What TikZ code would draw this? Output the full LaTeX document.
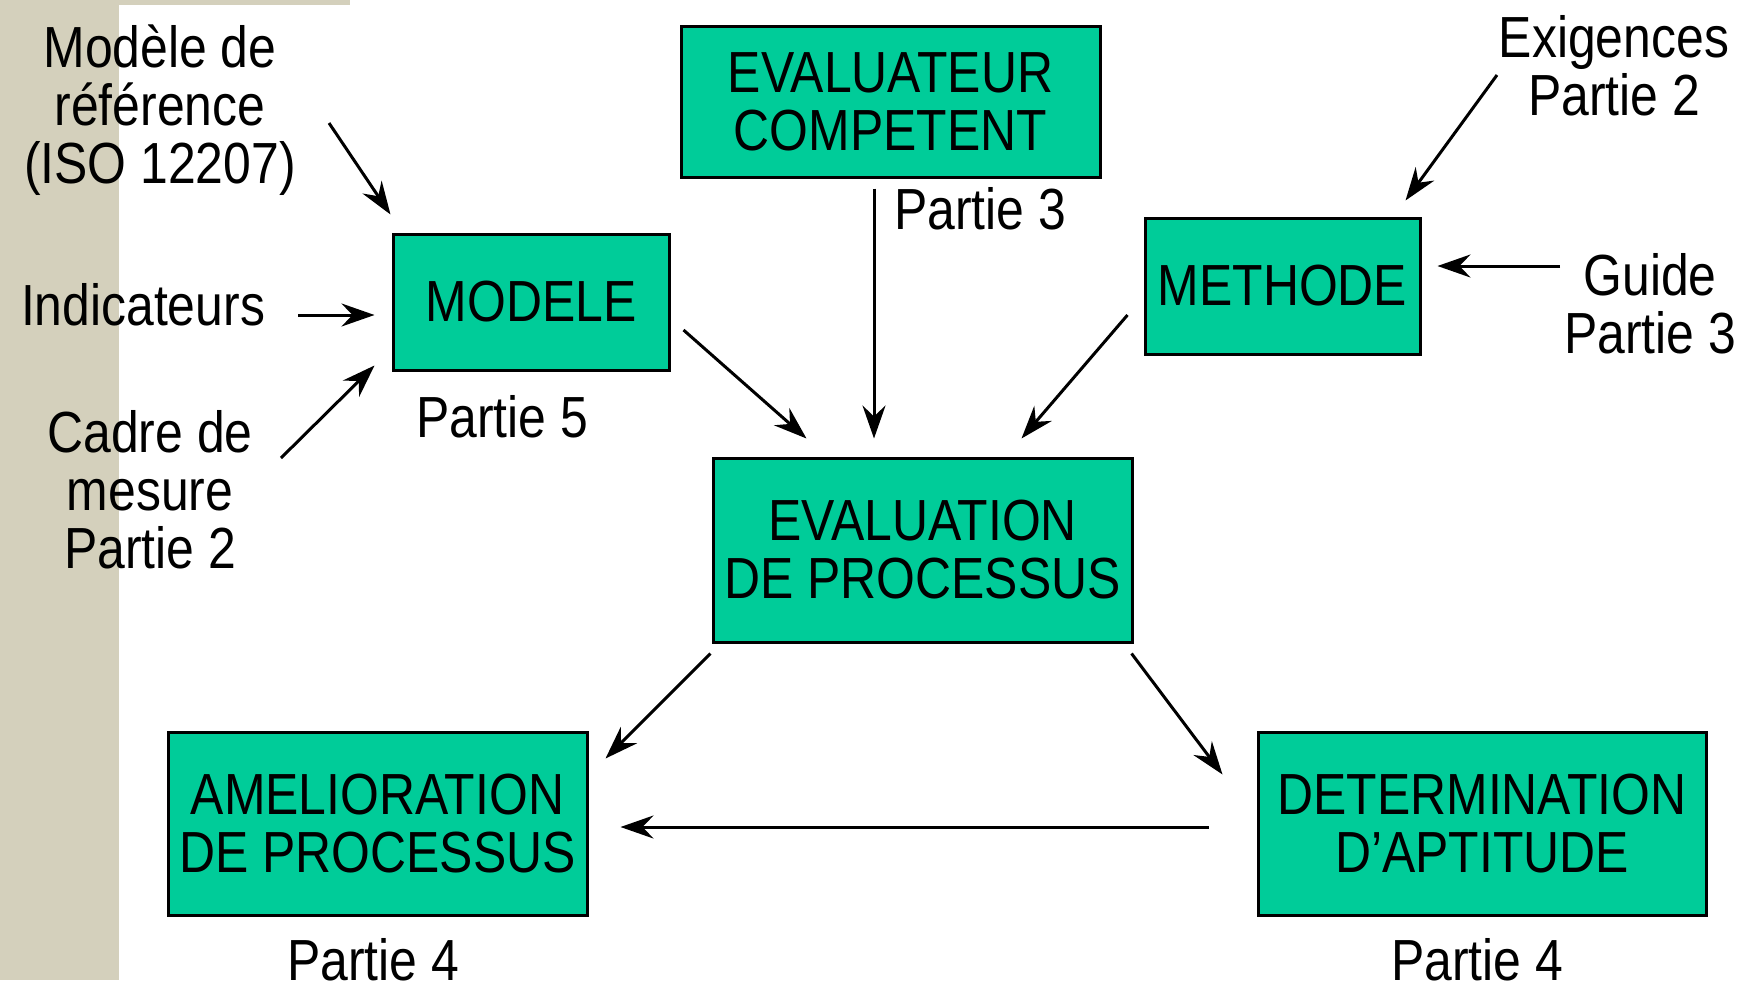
\documentclass[tikz,border=0pt]{standalone}
\usepackage{fontspec}
\setmainfont{Liberation Sans}[FakeStretch=0.86]
\usetikzlibrary{arrows.meta}
\definecolor{boxgreen}{HTML}{00CC99}
\definecolor{sideband}{HTML}{D4D0BC}
\begin{document}
\begin{tikzpicture}[x=1pt,y=-1pt,
  font=\fontsize{58}{58}\selectfont,
  box/.style={draw=black, line width=3pt, fill=boxgreen, inner sep=0pt, align=center},
  lbl/.style={align=center, inner sep=0pt},
  arr/.style={line width=3pt, -{Stealth[length=33pt,width=23pt,inset=11pt]}}]
\useasboundingbox (0,0) rectangle (1756,980);
% side band
\fill[sideband] (0,0) rectangle (119,980);
\fill[sideband] (0,0) rectangle (350,5);

% process boxes
\node[box, minimum width=276pt, minimum height=136pt] (modele) at (531,302) {MODELE};
\node[box, minimum width=419pt, minimum height=151pt] (evaluateur) at (890.5,101.5) {EVALUATEUR\\COMPETENT};
\node[box, minimum width=275pt, minimum height=136pt] (methode) at (1282.5,286) {METHODE};
\node[box, minimum width=419pt, minimum height=184pt] (evalp) at (922.5,550) {EVALUATION\\DE PROCESSUS};
\node[box, minimum width=419pt, minimum height=183pt] (amel) at (377.5,823.5) {AMELIORATION\\DE PROCESSUS};
\node[box, minimum width=448pt, minimum height=183pt] (deter) at (1482,823.5) {DETERMINATION\\D’APTITUDE};

% labels
\node[lbl] (ref) at (160,110) {Modèle de\\référence\\(ISO 12207)};
\node[lbl] (indic) at (143,305) {Indicateurs};
\node[lbl] (cadre) at (150,490) {Cadre de\\mesure\\Partie 2};
\node[lbl] (p5) at (502,417) {Partie 5};
\node[lbl] (p3) at (980,209) {Partie 3};
\node[lbl] (exig) at (1614,66) {Exigences\\Partie 2};
\node[lbl] (guide) at (1650,304) {Guide\\Partie 3};
\node[lbl] (p4a) at (373,960) {Partie 4};
\node[lbl] (p4b) at (1477,960) {Partie 4};

% free arrow ends next to the labels
\coordinate (refout) at (329,123);
\coordinate (indout) at (298,315);
\coordinate (cadout) at (281,458);
\coordinate (exgout) at (1497,75);
\coordinate (guiout) at (1560,266);

% connectors
\draw[arr] (refout) -- ([shift={(-1,-18)}]modele.north west);
\draw[arr] (indout) -- ([shift={(-17,13)}]modele.west);
\draw[arr] (cadout) -- ([shift={(-17,-6)}]modele.south west);
\draw[arr] ([shift={(13,28)}]modele.east) -- ([shift={(95,-18)}]evalp.north west);
\draw[arr] ([shift={(-16.5,10)}]evaluateur.south) -- ([shift={(-48.5,-18)}]evalp.north);
\draw[arr] ([shift={(-16,29)}]methode.west) -- ([shift={(-112,-18)}]evalp.north east);
\draw[arr] (exgout) -- ([shift={(-16,-16)}]methode.north east);
\draw[arr] (guiout) -- ([shift={(16,-20)}]methode.east);
\draw[arr] ([shift={(-1,10)}]evalp.south west) -- ([shift={(17,28)}]amel.north east);
\draw[arr] ([shift={(-2,10)}]evalp.south east) -- ([shift={(-34,44)}]deter.north west);
\draw[arr] ([shift={(-48,3.5)}]deter.west) -- ([shift={(32,3.5)}]amel.east);
\end{tikzpicture}
\end{document}
